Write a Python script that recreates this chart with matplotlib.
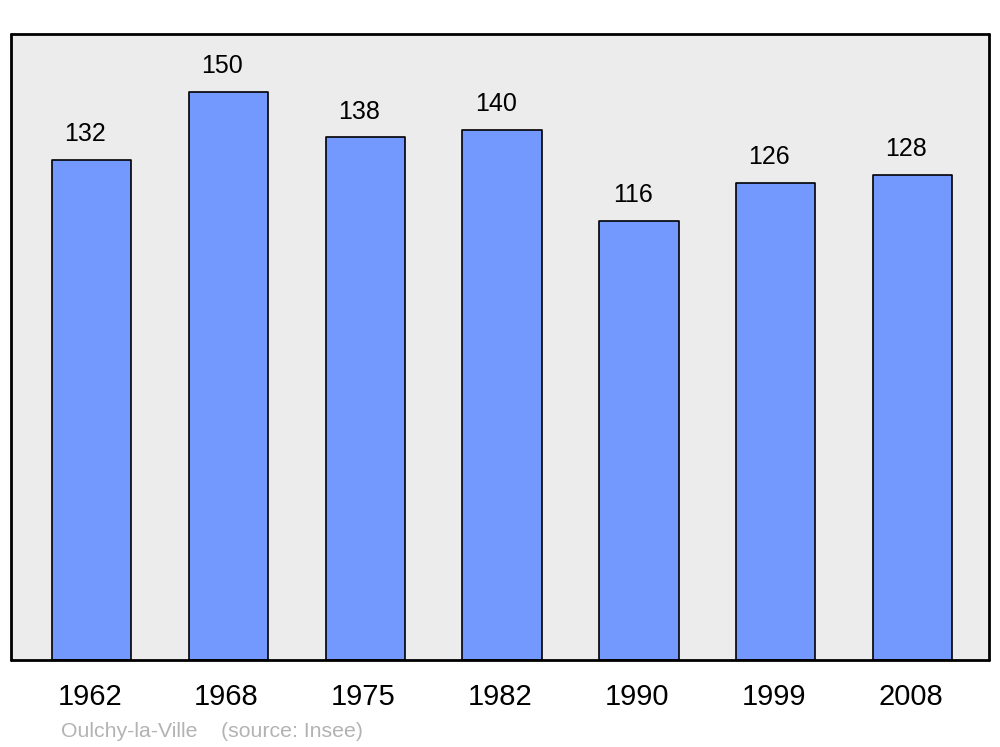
import matplotlib.pyplot as plt
from matplotlib.transforms import ScaledTranslation

years = ["1962", "1968", "1975", "1982", "1990", "1999", "2008"]
population = [132, 150, 138, 140, 116, 126, 128]

plt.rcParams['font.family'] = ['Liberation Sans', 'DejaVu Sans']

fig = plt.figure(figsize=(10, 7.47), dpi=100)
ax = fig.add_axes([0.011, 0.1165, 0.978, 0.838])
ax.set_facecolor('#ececec')

x = range(len(years))
bars = ax.bar(x, population, width=0.58, color='#7399ff', edgecolor='black',
              linewidth=1.2, joinstyle='round')

for i, v in enumerate(population):
    ax.annotate(str(v), (i, v), xytext=(-4.5, 13.5), textcoords='offset points',
                ha='center', va='baseline', fontsize=18)

ax.set_xlim(-0.59, 6.56)
ax.set_ylim(0, 165.3)
ax.set_xticks(list(x))
ax.set_xticklabels(years, fontsize=21)
ax.tick_params(axis='x', length=0, pad=16.5)
shift = ScaledTranslation(-2 / 100, 0, fig.dpi_scale_trans)
for lab in ax.get_xticklabels():
    lab.set_transform(lab.get_transform() + shift)
ax.set_yticks([])

for s in ax.spines.values():
    s.set_linewidth(2)
    s.set_capstyle('round')
    s.set_joinstyle('round')

fig.text(0.061, 1 - 737 / 747, "Oulchy-la-Ville    (source: Insee)",
         color='#b3b3b3', fontsize=15.3, va='baseline', ha='left')

fig.savefig('out.png', dpi=100)
